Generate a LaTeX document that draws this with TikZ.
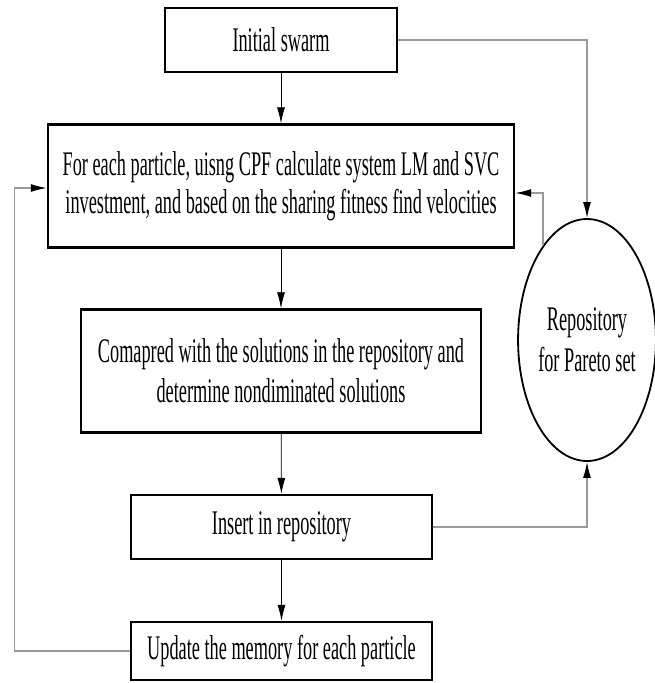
\documentclass[tikz,border=0pt]{standalone}
\usepackage{fontspec}
\setmainfont[FakeStretch=0.53]{Liberation Serif}
\usetikzlibrary{arrows.meta,shapes.geometric}

\tikzset{
  stepbox/.style={draw, rectangle, line width=2.4pt, align=center, inner sep=0pt,
    font=\fontsize{34.5}{38}\selectfont},
  arr/.style={-{Latex[length=16pt,width=8pt]}, line width=0.8pt},
  garr/.style={-{Latex[length=16pt,width=8pt,color=black]}, draw=gray!80, line width=1.2pt}
}

\begin{document}
\begin{tikzpicture}[x=1pt, y=-1pt]
                \useasboundingbox (0,0) rectangle (654,683);
                \node[stepbox, minimum width=232pt, minimum height=64pt] (init) at (281,40) {Initial swarm};
                \node[stepbox, minimum width=466pt, minimum height=123pt] (calc) at (281,186)
                    {For each particle, uisng CPF calculate system LM and SVC\\investment, and based on the sharing fitness find velocities};
                \node[stepbox, minimum width=400pt, minimum height=123pt, font=\fontsize{34.5}{40}\selectfont] (comp) at (281,371)
                    {Comapred with the solutions in the repository and\\determine nondiminated solutions};
                \node[stepbox, minimum width=301pt, minimum height=64pt] (ins) at (281.5,527) {Insert in repository};
                \node[stepbox, minimum width=301pt, minimum height=58pt] (upd) at (281.5,651) {Update the memory for each particle};
                \node[draw, ellipse, line width=1.8pt, minimum width=118pt, minimum height=242pt, inner sep=0pt,
                      align=center, font=\fontsize{34.5}{41}\selectfont] (repo) at (587,340) {Repository\\for Pareto set};

                % main flow
                \draw[arr] (init) -- (calc);
                \draw[arr] (calc) -- (comp);
                \draw[arr] (comp) -- (ins);
                \draw[arr] (ins) -- (upd);

                % repository links
                \draw[garr] (init.east) -| (repo.north);
                \draw[garr] (ins.east) -| (repo.south);
                \draw[garr] (repo.115) |- ([yshift=-7pt]calc.east);

                % loop back
                \draw[garr] (upd.west) -- ++(-115,0) |- ([yshift=-2pt]calc.west);
            \end{tikzpicture}
\end{document}
